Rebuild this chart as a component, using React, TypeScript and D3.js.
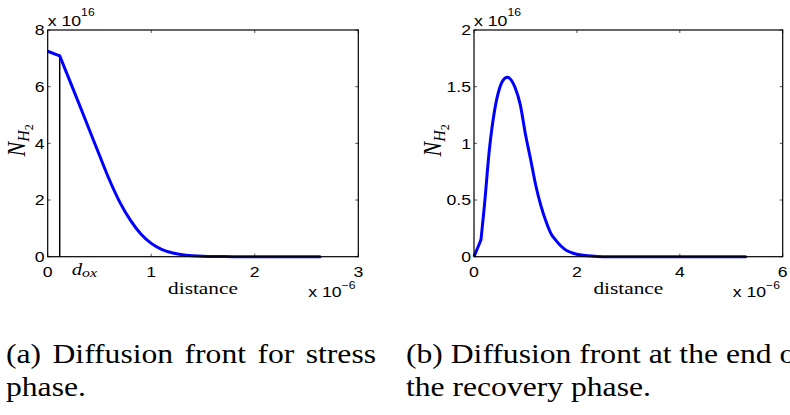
import React, { useRef, useLayoutEffect } from "react";
import * as d3 from "d3";

// ---- Data (distance in 1e-6, N_H2 in 1e16) ----
const stressDistance = [0, 0.116, 0.2, 0.3, 0.4, 0.5, 0.6, 0.7, 0.8, 0.9, 1.0, 1.1, 1.2, 1.3, 1.4, 1.5, 1.6, 1.7, 1.8, 2.0, 2.2, 2.4, 2.63];
const stressN = [7.25, 7.09, 6.33, 5.42, 4.5, 3.58, 2.68, 1.9, 1.28, 0.8, 0.47, 0.26, 0.14, 0.07, 0.035, 0.015, 0.006, 0.003, 0.001, 0, 0, 0, 0];
const recoveryDistance = [0, 0.136, 0.2, 0.3, 0.4, 0.5, 0.6, 0.65, 0.7, 0.8, 0.9, 1.0, 1.1, 1.2, 1.3, 1.4, 1.5, 1.6, 1.7, 1.8, 1.9, 2.0, 2.2, 2.4, 2.6, 3.0, 5.28];
const recoveryN = [0, 0.15, 0.44, 0.95, 1.29, 1.49, 1.575, 1.583, 1.57, 1.49, 1.34, 1.08, 0.86, 0.63, 0.45, 0.31, 0.2, 0.14, 0.09, 0.055, 0.035, 0.022, 0.008, 0.002, 0, 0, 0];
const doxPosition = 0.116;

const stressXTicks = [0, 1, 2, 3];
const stressYTicks = [0, 2, 4, 6, 8];
const recoveryXTicks = [0, 2, 4, 6];
const recoveryYTicks = [0, 0.5, 1, 1.5, 2];

const captionA = ["(a) Diffusion front for stress", "phase."];
const captionB = ["(b) Diffusion front at the end of", "the recovery phase."];

const SANS = "'Liberation Sans', Arial, Helvetica, sans-serif";
const SERIF = "'Liberation Serif', 'Times New Roman', Times, serif";
const SX = 1.22; // horizontal stretch of the figure's lettering

function SText({ x, y, anchor = "start", family, size, italic = false, sx = SX, children }:
  { x: number; y: number; anchor?: string; family: string; size: number; italic?: boolean; sx?: number; children: React.ReactNode }) {
  return (
    <g transform={`translate(${x},${y}) scale(${sx},1)`}>
      <text textAnchor={anchor} fontFamily={family} fontSize={size} fontStyle={italic ? "italic" : "normal"}>{children}</text>
    </g>
  );
}

type PanelProps = {
  left: number; right: number; top: number; bottom: number;
  xDomain: [number, number]; yDomain: [number, number];
  xTicks: number[]; yTicks: number[];
  xs: number[]; ys: number[];
  ylabelX: number;
  dox?: number;
};

function Panel(p: PanelProps) {
  const x = d3.scaleLinear().domain(p.xDomain).range([p.left, p.right]);
  const y = d3.scaleLinear().domain(p.yDomain).range([p.bottom, p.top]);
  const pts: [number, number][] = p.xs.map((v, i) => [v, p.ys[i]]);
  const firstSeg = d3.line<[number, number]>().x(d => x(d[0])).y(d => y(d[1])).curve(d3.curveLinear)(pts.slice(0, 2)) || "";
  const rest = d3.line<[number, number]>().x(d => x(d[0])).y(d => y(d[1])).curve(d3.curveMonotoneX)(pts.slice(1)) || "";
  const tl = 3;
  const cx = (p.left + p.right) / 2;
  const cy = (p.top + p.bottom) / 2 - 3;
  return (
    <g>
      {p.xTicks.map(t => (
        <g key={"xt" + t}>
          <line x1={x(t)} x2={x(t)} y1={p.bottom} y2={p.bottom - tl} stroke="#555" strokeWidth={1} />
          <line x1={x(t)} x2={x(t)} y1={p.top} y2={p.top + tl} stroke="#555" strokeWidth={1} />
          <SText x={x(t)} y={p.bottom + 20} anchor="middle" family={SANS} size={14.5}>{String(t)}</SText>
        </g>
      ))}
      {p.yTicks.map(t => (
        <g key={"yt" + t}>
          <line x1={p.left} x2={p.left + tl} y1={y(t)} y2={y(t)} stroke="#555" strokeWidth={1} />
          <line x1={p.right} x2={p.right - tl} y1={y(t)} y2={y(t)} stroke="#555" strokeWidth={1} />
          <SText x={p.left - 3} y={y(t) + 5.3} anchor="end" family={SANS} size={14.5}>{String(t)}</SText>
        </g>
      ))}
      {p.dox !== undefined && (
        <line x1={x(p.dox)} x2={x(p.dox)} y1={y(0)} y2={y(d3.interpolateNumber(p.ys[0], p.ys[1])(p.dox / p.xs[1]))} stroke="#000" strokeWidth={1.5} />
      )}
      <path d={firstSeg} fill="none" stroke="#0000ff" strokeWidth={3} strokeLinejoin="round" />
      <path d={rest} fill="none" stroke="#0000ff" strokeWidth={3} strokeLinejoin="round" strokeLinecap="round" />
      <rect x={p.left} y={p.top} width={p.right - p.left} height={p.bottom - p.top} fill="none" stroke="#000" strokeWidth={1.2} />
      <SText x={p.left} y={p.top - 4} family={SANS} size={14.5}>x 10<tspan fontSize={10} dy={-10}>16</tspan></SText>
      <SText x={p.right - 50} y={p.bottom + 40} family={SANS} size={14.5}>x 10<tspan fontSize={10} dy={-8}>−6</tspan></SText>
      <SText x={cx} y={p.bottom + 37} anchor="middle" family={SERIF} size={17.5}>distance</SText>
      <g transform={`translate(${p.ylabelX},${cy}) scale(1.1,1) rotate(-90)`}>
        <text textAnchor="middle" fontFamily={SERIF} fontStyle="italic" fontSize={22}>
          N<tspan fontSize={16} dy={4}>H</tspan><tspan fontSize={12} fontStyle="normal" dy={3}>2</tspan>
        </text>
      </g>
      {p.dox !== undefined && (
        <SText x={x(p.dox) + 12} y={p.bottom + 18} family={SERIF} size={17} italic>
          d<tspan fontSize={13} dy={2}>ox</tspan>
        </SText>
      )}
    </g>
  );
}

function JustifiedLine({ x, y, width, text, fontSize, sx }: { x: number; y: number; width: number; text: string; fontSize: number; sx: number }) {
  const ref = useRef<SVGTextElement>(null);
  useLayoutEffect(() => {
    const el = ref.current;
    if (!el) return;
    el.setAttribute("word-spacing", "0");
    const w = el.getComputedTextLength();
    const gaps = text.split(" ").length - 1;
    if (gaps > 0) el.setAttribute("word-spacing", String((width / sx - w) / gaps));
  }, [text, width, sx]);
  return (
    <g transform={`translate(${x},${y}) scale(${sx},1)`}>
      <text ref={ref} fontFamily={SERIF} fontSize={fontSize}>{text}</text>
    </g>
  );
}

const CAP_SX = 1.15;
const CAP_SIZE = 27.5;

export default function App() {
  return (
    <svg width={790} height={415} style={{ position: "absolute", left: 0, top: 0, background: "#fff" }}>
      <Panel left={47.7} right={358.3} top={30} bottom={256.7} xDomain={[0, 3]} yDomain={[0, 8]}
        xTicks={stressXTicks} yTicks={stressYTicks} xs={stressDistance} ys={stressN} ylabelX={25} dox={doxPosition} />
      <Panel left={474} right={782.7} top={30} bottom={256.7} xDomain={[0, 6]} yDomain={[0, 2]}
        xTicks={recoveryXTicks} yTicks={recoveryYTicks} xs={recoveryDistance} ys={recoveryN} ylabelX={441} />
      <JustifiedLine x={6} y={363} width={370} text={captionA[0]} fontSize={CAP_SIZE} sx={CAP_SX} />
      <SText x={6} y={396} family={SERIF} size={CAP_SIZE} sx={CAP_SX}>{captionA[1]}</SText>
      <SText x={406} y={363} family={SERIF} size={CAP_SIZE} sx={CAP_SX}>{captionB[0]}</SText>
      <SText x={406} y={396} family={SERIF} size={CAP_SIZE} sx={CAP_SX}>{captionB[1]}</SText>
    </svg>
  );
}
